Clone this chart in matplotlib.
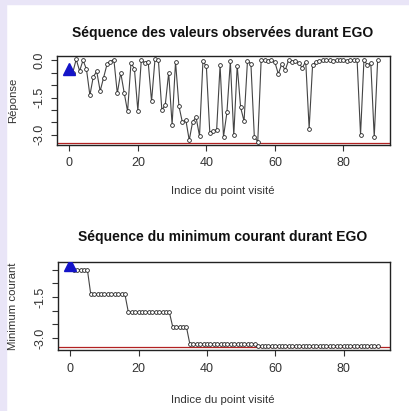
import numpy as np
import matplotlib
matplotlib.use("Agg")
import matplotlib.pyplot as plt
from matplotlib.patches import Rectangle

plt.rcParams['font.family'] = ['Liberation Sans', 'DejaVu Sans']

# observed responses during EGO (index 0 = best of initial design)
indices = np.arange(91)
responses = [
    -0.34, -0.50, 0.04, -0.43, 0.00, -0.36, -1.41, -0.66, -0.45, -1.24,
    -0.70, -0.16, -0.05, 0.03, -1.33, -0.50, -1.30, -2.06, -0.10, -0.35,
    -2.03, 0.00, -0.10, -0.05, -1.65, 0.04, 0.00, -2.00, -1.80, -0.50,
    -2.60, -0.06, -1.85, -2.50, -2.40, -3.22, -2.47, -2.30, -3.05, -0.03,
    -0.25, -2.92, -2.85, -2.80, -0.20, -3.08, -2.10, -0.04, -3.02, -0.22,
    -1.90, -2.45, -0.02, -0.14, -3.08, -3.28, 0.03, 0.00, -0.02, 0.01,
    -0.08, -0.55, -0.15, -0.40, 0.00, -0.05, -0.03, -0.12, -0.30, -0.05,
    -2.75, -0.20, -0.06, -0.02, 0.00, 0.01, 0.00, -0.01, 0.00, 0.01,
    0.00, -0.01, 0.00, 0.01, 0.00, -3.00, 0.02, -0.20, -0.12, -3.10,
    0.03,
]
global_min = -3.32237

titles = ["Séquence des valeurs observées durant EGO",
          "Séquence du minimum courant durant EGO"]
ylabels = ["Réponse", "Minimum courant"]
xlabel = "Indice du point visité"

responses = np.array(responses)
running_min = np.minimum.accumulate(responses)

W, H = 410, 411
fig = plt.figure(figsize=(W / 100, H / 100), dpi=100, facecolor="white")
# lavender border strips (top and left)
fig.patches.append(Rectangle((0, 1 - 4 / H), 1, 4 / H, transform=fig.transFigure,
                             color="#e9e5f7", zorder=-10))
fig.patches.append(Rectangle((0, 0), 6 / W, 1, transform=fig.transFigure,
                             color="#e9e5f7", zorder=-10))


def r_lim(lo, hi):
    pad = 0.04 * (hi - lo)
    return lo - pad, hi + pad


def draw(ax, y, title, ylabel, labelled, ylo, title_y, xlab_y):
    ax.plot(indices[1:], y[1:], color="#444444", lw=0.8, zorder=2)
    ax.plot(indices[1:], y[1:], "o", ms=2.7, mfc="white", mec="#222222",
            mew=0.6, zorder=3)
    ax.plot(indices[0], y[0], "^", ms=8, color="#1414c8", zorder=4)
    ax.axhline(global_min, color="#b22222", lw=0.9, zorder=1)
    ax.set_xlim(*r_lim(indices.min(), indices.max()))
    ax.set_ylim(*r_lim(ylo, y.max()))
    ax.set_xticks([0, 20, 40, 60, 80])
    yt = np.arange(0.0, -3.01, -0.5)
    lo, hi = ax.get_ylim()
    yt = [v for v in yt if lo <= v <= hi]
    ax.set_yticks(yt)
    ax.set_yticklabels([f"{v:.1f}" if round(v, 1) in labelled else "" for v in yt],
                       rotation=90, va="center")
    ax.tick_params(direction="out", length=4, width=0.8, labelsize=9,
                   colors="#333333")
    ax.tick_params(axis="x", pad=5)
    ax.tick_params(axis="y", pad=4)
    for s in ax.spines.values():
        s.set_linewidth(1.0)
        s.set_color("#222222")
    fig.text(223 / W, 1 - title_y / H, title, ha="center", va="center",
             fontsize=10, fontweight="bold", color="#111111")
    fig.text(223 / W, 1 - xlab_y / H, xlabel, ha="center", va="center",
             fontsize=8.2, color="#333333")
    pos = ax.get_position()
    fig.text(13 / W, pos.y0 + pos.height / 2, ylabel, ha="center", va="center",
             rotation=90, fontsize=8.2, color="#333333")


ax1 = fig.add_axes([57 / W, 1 - 145 / H, 333 / W, 89 / H])
draw(ax1, responses, titles[0], ylabels[0], [0.0, -1.5, -3.0],
     responses.min(), 33, 190.5)

ax2 = fig.add_axes([58 / W, 1 - 350 / H, 332 / W, 88 / H])
draw(ax2, running_min, titles[1], ylabels[1], [-1.5, -3.0],
     min(running_min.min(), global_min), 237, 400)

fig.savefig("out.png", dpi=100, facecolor="white")
